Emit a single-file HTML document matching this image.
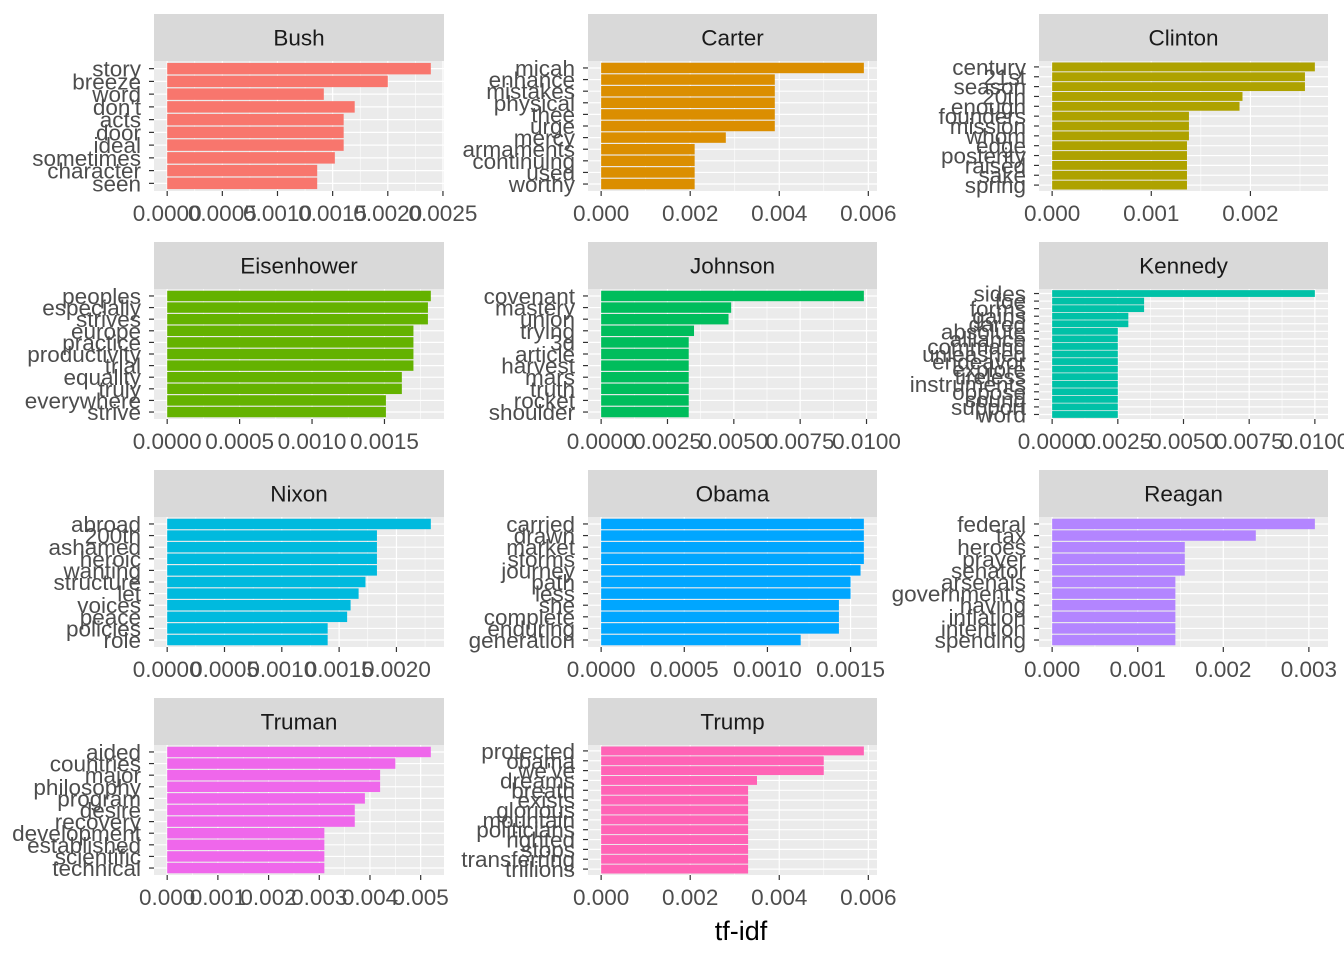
<!DOCTYPE html>
<html><head><meta charset="utf-8">
<style>
html,body{margin:0;padding:0;background:#fff;}
svg{display:block;font-family:"Liberation Sans",Arial,sans-serif;}
</style></head>
<body>
<svg id="chart" width="1344" height="960" viewBox="0 0 1344 960" xmlns="http://www.w3.org/2000/svg">
<text x="741" y="940" font-size="27" fill="#000" text-anchor="middle">tf-idf</text>
</svg>
<script>
const presidents = ["Bush","Carter","Clinton","Eisenhower","Johnson","Kennedy","Nixon","Obama","Reagan","Truman","Trump"];
const colors = ["#F8766D","#DB8E00","#AEA200","#64B200","#00BD5C","#00C1A7","#00BADE","#00A6FF","#B385FF","#EF67EB","#FF63B6"];
const wordsBush = ["story","breeze","word","don't","acts","door","ideal","sometimes","character","seen"];
const valsBush = [0.00239,0.00200,0.00142,0.00170,0.00160,0.00160,0.00160,0.00152,0.00136,0.00136];
const wordsCarter = ["micah","enhance","mistakes","physical","thee","urge","mercy","armaments","continuing","used","worthy"];
const valsCarter = [0.0059,0.0039,0.0039,0.0039,0.0039,0.0039,0.0028,0.0021,0.0021,0.0021,0.0021];
const wordsClinton = ["century","21st","season","20th","enough","founders","mission","whom","edge","posterity","raised","sake","spring"];
const valsClinton = [0.00265,0.00255,0.00255,0.00192,0.00189,0.00138,0.00138,0.00138,0.00136,0.00136,0.00136,0.00136,0.00136];
const wordsEisenhower = ["peoples","especially","strives","europe","practice","productivity","trial","equality","truly","everywhere","strive"];
const valsEisenhower = [0.00182,0.00180,0.00180,0.00170,0.00170,0.00170,0.00170,0.00162,0.00162,0.00151,0.00151];
const wordsJohnson = ["covenant","mastery","union","trying","3d","article","harvest","mars","truth","rocket","shoulder"];
const valsJohnson = [0.0099,0.0049,0.0048,0.0035,0.0033,0.0033,0.0033,0.0033,0.0033,0.0033,0.0033];
const wordsKennedy = ["sides","foe","forms","gains","dared","absolute","alliance","command","unleashed","endeavor","explore","tireless","instruments","oppose","sound","support","word"];
const valsKennedy = [0.0100,0.0035,0.0035,0.0029,0.0029,0.0025,0.0025,0.0025,0.0025,0.0025,0.0025,0.0025,0.0025,0.0025,0.0025,0.0025,0.0025];
const wordsNixon = ["abroad","200th","ashamed","heroic","wanting","structure","let","voices","peace","policies","role"];
const valsNixon = [0.00230,0.00183,0.00183,0.00183,0.00183,0.00173,0.00167,0.00160,0.00157,0.00140,0.00140];
const wordsObama = ["carried","drawn","market","storms","journey","path","less","she","complete","enduring","generation"];
const valsObama = [0.00158,0.00158,0.00158,0.00158,0.00156,0.00150,0.00150,0.00143,0.00143,0.00143,0.00120];
const wordsReagan = ["federal","tax","heroes","prayer","senator","arsenals","government's","having","inflation","intention","spending"];
const valsReagan = [0.00307,0.00238,0.00155,0.00155,0.00155,0.00144,0.00144,0.00144,0.00144,0.00144,0.00144];
const wordsTruman = ["aided","countries","major","philosophy","program","desire","recovery","development","established","scientific","technical"];
const valsTruman = [0.0052,0.0045,0.0042,0.0042,0.0039,0.0037,0.0037,0.0031,0.0031,0.0031,0.0031];
const wordsTrump = ["protected","obama","we've","dreams","breath","exists","glorious","mountain","politicians","righted","stops","transferring","trillions"];
const valsTrump = [0.0059,0.0050,0.0050,0.0035,0.0033,0.0033,0.0033,0.0033,0.0033,0.0033,0.0033,0.0033,0.0033];
const ticks1 = [0,0.0005,0.001,0.0015,0.002,0.0025];
const ticks2 = [0,0.002,0.004,0.006];
const ticks3 = [0,0.001,0.002];
const ticks4 = [0,0.0005,0.001,0.0015];
const ticks5 = [0,0.0025,0.005,0.0075,0.01];
const ticks6 = [0,0.001,0.002,0.003];
const ticks7 = [0,0.001,0.002,0.003,0.004,0.005];
const ticks8 = [0,0.0005,0.001,0.0015,0.002];
const tickLabels1 = ["0.0000","0.0005","0.0010","0.0015","0.0020","0.0025"];
const tickLabels2 = ["0.000","0.002","0.004","0.006"];
const tickLabels3 = ["0.000","0.001","0.002"];
const tickLabels4 = ["0.0000","0.0005","0.0010","0.0015"];
const tickLabels5 = ["0.0000","0.0025","0.0050","0.0075","0.0100"];
const tickLabels6 = ["0.000","0.001","0.002","0.003"];
const tickLabels7 = ["0.000","0.001","0.002","0.003","0.004","0.005"];
const tickLabels8 = ["0.0000","0.0005","0.0010","0.0015","0.0020"];

const panels = [
 [wordsBush,valsBush,ticks1,tickLabels1],
 [wordsCarter,valsCarter,ticks2,tickLabels2],
 [wordsClinton,valsClinton,ticks3,tickLabels3],
 [wordsEisenhower,valsEisenhower,ticks4,tickLabels4],
 [wordsJohnson,valsJohnson,ticks5,tickLabels5],
 [wordsKennedy,valsKennedy,ticks5,tickLabels5],
 [wordsNixon,valsNixon,ticks8,tickLabels8],
 [wordsObama,valsObama,ticks4,tickLabels4],
 [wordsReagan,valsReagan,ticks6,tickLabels6],
 [wordsTruman,valsTruman,ticks7,tickLabels7],
 [wordsTrump,valsTrump,ticks2,tickLabels2]
];
const colX = [154,588,1039], colW = [290,289,289];
const rowY = [14,242,470,698];
const FS = 22.5;
const NS = "http://www.w3.org/2000/svg";
const svg = document.getElementById('chart');
function mk(tag, attrs, parent){
  const e = document.createElementNS(NS, tag);
  for (const k in attrs) e.setAttribute(k, attrs[k]);
  parent.appendChild(e);
  return e;
}
panels.forEach((p, i) => {
  const [words, vals, ticks, tlabels] = p;
  const L = colX[i%3], W = colW[i%3], T = rowY[Math.floor(i/3)];
  const stripH = 47, pTop = T + stripH, pH = 130;
  const g = mk('g', {}, svg);
  
  
  const M = Math.max(...vals);
  const dmin = -0.05*M, dmax = 1.05*M;
  const xs = v => L + (v - dmin)/(dmax - dmin)*W;
  const n = words.length;
  const unit = pH/(n + 0.2);
  const ys = k => pTop + (0.6 + k)*unit;
  const strip = mk('rect', {x:L, y:T, width:W, height:stripH, fill:'#D9D9D9'}, g);
  
  
  const st = mk('text', {x:L+W/2, y:T+stripH/2+8, 'font-size':FS, fill:'#1A1A1A', 'text-anchor':'middle'}, g);
  st.textContent = presidents[i];
  
  
  const bg = mk('rect', {x:L, y:pTop, width:W, height:pH, fill:'#EBEBEB'}, g);
  
  
  const step = ticks[1]-ticks[0];
  for (let t = 0; t < ticks.length; t++) {
    const m = ticks[t] + step/2;
    if (m <= dmax) mk('line', {x1:xs(m), x2:xs(m), y1:pTop, y2:pTop+pH, stroke:'#fff', 'stroke-width':0.6}, g);
  }
  ticks.forEach(t => { if (t <= dmax + 1e-9) mk('line', {x1:xs(t), x2:xs(t), y1:pTop, y2:pTop+pH, stroke:'#fff', 'stroke-width':1.2}, g); });
  words.forEach((w, k) => mk('line', {x1:L, x2:L+W, y1:ys(k), y2:ys(k), stroke:'#fff', 'stroke-width':1.2}, g));
  words.forEach((w, k) => {
    const b = mk('rect', {x:xs(0), y:ys(k)-0.45*unit, width:xs(vals[k])-xs(0), height:0.9*unit, fill:colors[i]}, g);
    
    
    mk('line', {x1:L-5, x2:L, y1:ys(k), y2:ys(k), stroke:'#333', 'stroke-width':1.2}, g);
    const lt = mk('text', {x:L-13, y:ys(k)+8, 'font-size':FS, fill:'#4D4D4D', 'text-anchor':'end'}, g);
    lt.textContent = w;
    
    
  });
  ticks.forEach((t, k) => {
    if (t > dmax + 1e-9) return;
    mk('line', {x1:xs(t), x2:xs(t), y1:pTop+pH, y2:pTop+pH+5, stroke:'#333', 'stroke-width':1.2}, g);
    const tt = mk('text', {x:xs(t), y:pTop+pH+30, 'font-size':FS, fill:'#4D4D4D', 'text-anchor':'middle'}, g);
    tt.textContent = tlabels[k];
    
    
  });
});
</script>
</body></html>
